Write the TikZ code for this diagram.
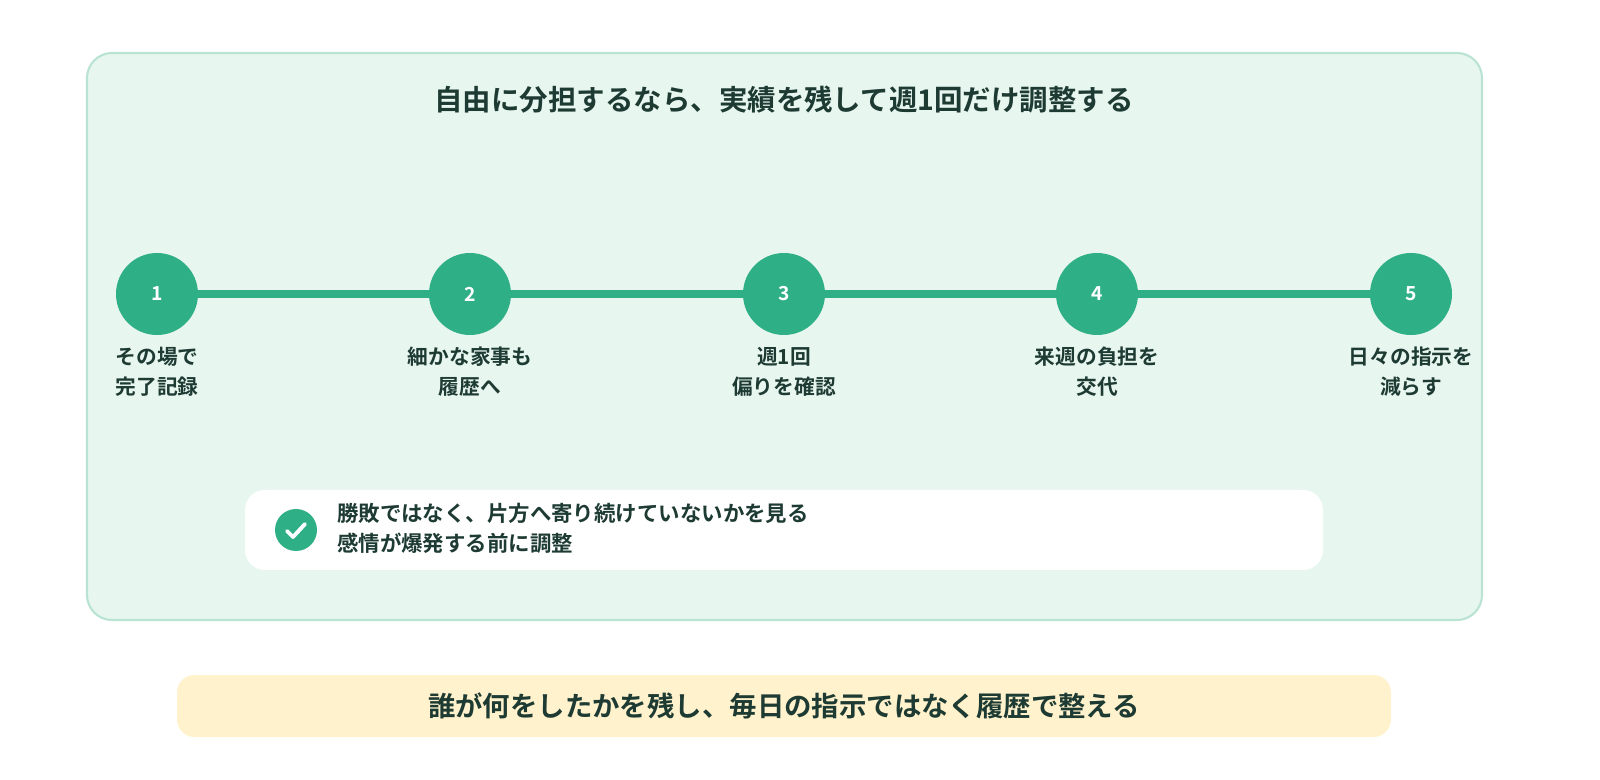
\documentclass[tikz,border=0pt]{standalone}
\usepackage{fontspec}
\setmainfont{Noto Sans CJK JP}[BoldFont={* Bold}]
\definecolor{panelbg}{HTML}{E8F6F0}
\definecolor{panelline}{HTML}{B9E3D2}
\definecolor{teal}{HTML}{2FAF85}
\definecolor{ink}{HTML}{1E3B33}
\definecolor{notebg}{HTML}{FFF2CC}
\tikzset{
  stepdot/.style={circle, fill=teal, minimum size=82*0.02cm, inner sep=0pt, text=white, font=\bfseries\fontsize{11}{12}\selectfont},
  steplabel/.style={align=center, text=ink, font=\bfseries\fontsize{11.8}{17}\selectfont, anchor=north}
}
\begin{document}
\begin{tikzpicture}[x=0.02cm, y=-0.02cm]
\useasboundingbox (0,0) rectangle (1600,780);
% panel
\draw[panelline, fill=panelbg, line width=1.2pt, rounded corners=0.5cm] (87,53) rectangle (1482,620);
\node[text=ink, font=\bfseries\fontsize{16.2}{19}\selectfont] (title) at (784,100) {自由に分担するなら、実績を残して週1回だけ調整する};
% steps
\foreach \i/\x/\txt in {1/157/{その場で\\完了記録}, 2/470/{細かな家事も\\履歴へ}, 3/784/{週1回\\偏りを確認}, 4/1097/{来週の負担を\\交代}, 5/1411/{日々の指示を\\減らす}} {
  \node[stepdot] (s\i) at (\x,294) {\i};
  \node[steplabel] (l\i) at (\x,341) {\txt};
}
\foreach \a/\b in {1/2,2/3,3/4,4/5}
  \draw[teal, line width=4.5pt] (s\a) -- (s\b);
% check box
\fill[white, rounded corners=0.4cm] (245,490) rectangle (1323,570);
\node[circle, fill=teal, minimum size=42*0.02cm, inner sep=0pt] (chk) at (296,530) {};
\draw[white, line width=2.2pt, line cap=round, line join=round] ([shift={(-9,1)}]chk.center) -- ([shift={(-3,7)}]chk.center) -- ([shift={(9,-6)}]chk.center);
\node[anchor=west, align=left, text=ink, font=\bfseries\fontsize{12.2}{17}\selectfont] (note) at (331,528) {勝敗ではなく、片方へ寄り続けていないかを見る\\感情が爆発する前に調整};
% bottom
\fill[notebg, rounded corners=0.35cm] (177,675) rectangle (1391,737);
\node[text=ink, font=\bfseries\fontsize{15.6}{18}\selectfont] (summary) at (784,706) {誰が何をしたかを残し、毎日の指示ではなく履歴で整える};
\end{tikzpicture}
\end{document}
